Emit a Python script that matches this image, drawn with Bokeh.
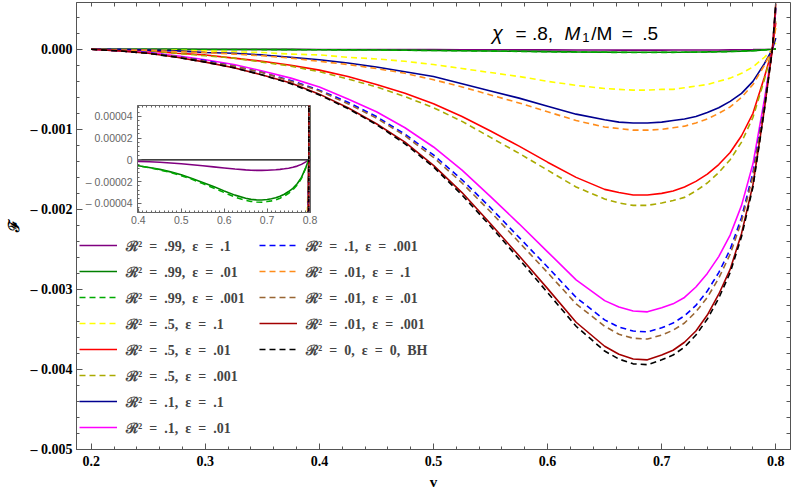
from bokeh.plotting import figure
from bokeh.models import (Range1d, LinearAxis, Legend, LegendItem, Label, Span,
                          CustomJSTickFormatter, SingleIntervalTicker, FixedTicker)
from bokeh.layouts import column
from bokeh.embed import file_html
from bokeh.resources import INLINE

# ---------------- data (F in units of 1e-3) ----------------
v = [0.2, 0.225, 0.25, 0.275, 0.3, 0.325, 0.35, 0.375, 0.4, 0.425, 0.45, 0.475,
     0.5, 0.525, 0.55, 0.575, 0.6, 0.625, 0.65, 0.6625, 0.675, 0.6875, 0.7, 0.71,
     0.72, 0.73, 0.74, 0.75, 0.76, 0.77, 0.78, 0.79, 0.797, 0.8]

F_r99_e1 = [0, -0.00005, -0.0001, -0.0002, -0.0004, -0.0006, -0.0008, -0.0011, -0.0014, -0.0018,
            -0.0023, -0.0029, -0.0036, -0.0045, -0.0055, -0.0065, -0.0075, -0.0085,
            -0.0093, -0.0096, -0.0097, -0.0097, -0.0096, -0.0094, -0.0092, -0.0088, -0.0083,
            -0.0077, -0.0069, -0.0058, -0.0042, -0.0019, 0.0, 0.002]
F_r99_e01 = [0, -0.0002, -0.0005, -0.0009, -0.0015, -0.0022, -0.0030, -0.0040, -0.0054, -0.0070,
             -0.0088, -0.0111, -0.0138, -0.0171, -0.0208, -0.0246, -0.0286, -0.0325,
             -0.0354, -0.0364, -0.0369, -0.0370, -0.0365, -0.0359, -0.0350, -0.0336, -0.0317,
             -0.0292, -0.0262, -0.0220, -0.0162, -0.0071, 0.0, 0.006]
F_r99_e001 = [0, -0.0002, -0.0005, -0.0010, -0.0016, -0.0023, -0.0032, -0.0043, -0.0056, -0.0073,
              -0.0093, -0.0117, -0.0146, -0.0180, -0.0219, -0.0259, -0.0301, -0.0343,
              -0.0373, -0.0383, -0.0389, -0.0390, -0.0384, -0.0378, -0.0368, -0.0353, -0.0334,
              -0.0308, -0.0276, -0.0232, -0.0170, -0.0075, 0.0, 0.006]
F_r5_e1 = [0, 0.0, -0.01, -0.01, -0.02, -0.03, -0.04, -0.06, -0.07, -0.10, -0.12, -0.15, -0.19,
           -0.24, -0.29, -0.34, -0.40, -0.45,
           -0.49, -0.50, -0.51, -0.51, -0.50, -0.50, -0.48, -0.46, -0.44, -0.40, -0.36, -0.30,
           -0.22, -0.10, 0.0, 0.08]
F_r5_e01 = [0, -0.01, -0.02, -0.05, -0.07, -0.11, -0.15, -0.20, -0.26, -0.34, -0.44, -0.55, -0.68,
            -0.84, -1.02, -1.21, -1.41, -1.60,
            -1.75, -1.79, -1.82, -1.82, -1.80, -1.77, -1.72, -1.65, -1.56, -1.44, -1.29, -1.08,
            -0.80, -0.35, 0.0, 0.33]
F_r5_e001 = [0, -0.01, -0.02, -0.05, -0.08, -0.11, -0.16, -0.21, -0.28, -0.37, -0.47, -0.59, -0.73,
             -0.90, -1.10, -1.30, -1.51, -1.72,
             -1.87, -1.92, -1.95, -1.95, -1.92, -1.89, -1.85, -1.77, -1.67, -1.54, -1.38, -1.16,
             -0.85, -0.38, 0.0, 0.35]
F_r1_e1 = [0, 0.0, -0.01, -0.02, -0.04, -0.05, -0.07, -0.10, -0.13, -0.17, -0.22, -0.28, -0.34,
           -0.43, -0.52, -0.61, -0.71, -0.81,
           -0.88, -0.91, -0.92, -0.92, -0.91, -0.89, -0.87, -0.84, -0.79, -0.73, -0.65, -0.55,
           -0.40, -0.18, 0.0, 0.14]
F_r1_e01 = [0, -0.02, -0.04, -0.08, -0.13, -0.19, -0.27, -0.36, -0.47, -0.62, -0.78, -0.98, -1.22,
            -1.51, -1.84, -2.18, -2.53, -2.88,
            -3.14, -3.22, -3.27, -3.28, -3.23, -3.18, -3.10, -2.97, -2.80, -2.59, -2.32, -1.95,
            -1.43, -0.63, 0.0, 0.50]
F_r1_e001 = [0, -0.02, -0.04, -0.09, -0.14, -0.21, -0.29, -0.39, -0.51, -0.66, -0.84, -1.06, -1.32,
             -1.63, -1.98, -2.35, -2.72, -3.10,
             -3.38, -3.47, -3.52, -3.53, -3.48, -3.42, -3.33, -3.20, -3.02, -2.79, -2.50, -2.10,
             -1.54, -0.68, 0.0, 0.52]
F_r01_e1 = [0, -0.01, -0.01, -0.03, -0.04, -0.06, -0.08, -0.11, -0.15, -0.19, -0.24, -0.30, -0.38,
            -0.47, -0.57, -0.67, -0.78, -0.89,
            -0.97, -0.99, -1.01, -1.01, -1.00, -0.98, -0.96, -0.92, -0.87, -0.80, -0.72, -0.60,
            -0.44, -0.20, 0.0, 0.27]
F_r01_e01 = [0, -0.02, -0.05, -0.09, -0.15, -0.21, -0.29, -0.40, -0.52, -0.68, -0.86, -1.08, -1.35,
             -1.67, -2.03, -2.41, -2.79, -3.18,
             -3.46, -3.56, -3.61, -3.62, -3.57, -3.51, -3.42, -3.28, -3.10, -2.86, -2.56, -2.15,
             -1.58, -0.70, 0.0, 0.50]
F_r01_e001 = [0, -0.02, -0.05, -0.10, -0.16, -0.23, -0.32, -0.42, -0.56, -0.73, -0.93, -1.16, -1.45,
              -1.79, -2.18, -2.58, -2.99, -3.41,
              -3.71, -3.81, -3.87, -3.88, -3.82, -3.76, -3.66, -3.52, -3.32, -3.06, -2.75, -2.30,
              -1.69, -0.75, 0.0, 0.57]
F_bh = [0, -0.02, -0.05, -0.10, -0.16, -0.23, -0.32, -0.43, -0.57, -0.74, -0.94, -1.18, -1.47,
        -1.82, -2.21, -2.62, -3.04, -3.46,
        -3.77, -3.87, -3.93, -3.94, -3.88, -3.82, -3.72, -3.57, -3.37, -3.11, -2.79, -2.34,
        -1.72, -0.76, 0.0, 0.58]
UNIT = 1e-3

S = "\u2002"
def lab(r, e, extra=""):
    return "\u211b\u00b2" + S + "=" + S + r + "," + S + "\u03b5" + S + "=" + S + e + extra

series = [
    (lab(".99", ".1"), F_r99_e1, "#800080", "solid"),
    (lab(".99", ".01"), F_r99_e01, "#008000", "solid"),
    (lab(".99", ".001"), F_r99_e001, "#00aa00", "6 4"),
    (lab(".5", ".1"), F_r5_e1, "#ffff00", "6 4"),
    (lab(".5", ".01"), F_r5_e01, "#ff0000", "solid"),
    (lab(".5", ".001"), F_r5_e001, "#aaaa00", "6 4"),
    (lab(".1", ".1"), F_r1_e1, "#000090", "solid"),
    (lab(".1", ".01"), F_r1_e01, "#ff00ff", "solid"),
    (lab(".1", ".001"), F_r1_e001, "#0000ff", "6 4"),
    (lab(".01", ".1"), F_r01_e1, "#ff8c1a", "6 4"),
    (lab(".01", ".01"), F_r01_e01, "#996633", "6 4"),
    (lab(".01", ".001"), F_r01_e001, "#a30000", "solid"),
    (lab("0", "0", "," + S + "BH"), F_bh, "#000000", "6 4"),
]
for _n, _vals, _c, _d in series:
    assert len(_vals) == len(v), _n

# ---------------- main figure ----------------
X0, X1 = 0.1871, 0.8129
Y0, Y1 = -0.005, 0.000585
FL, FT, FW, FH = 72, 2, 727, 448      # frame left/top/width/height on the canvas
p = figure(width=800, height=492, x_range=Range1d(X0, X1), y_range=Range1d(Y0, Y1),
           output_backend="svg", toolbar_location=None,
           min_border_left=FL, min_border_right=1, min_border_top=FT, min_border_bottom=42)
p.xgrid.visible = False
p.ygrid.visible = False
p.outline_line_color = "#555555"
p.background_fill_color = "white"

xt = SingleIntervalTicker(interval=0.1, num_minor_ticks=5)
yt = SingleIntervalTicker(interval=0.001, num_minor_ticks=5)
xfmt = CustomJSTickFormatter(code="return tick.toFixed(1);")
yfmt = CustomJSTickFormatter(code="""
if (Math.abs(tick) < 1e-12) return '0.000';
return (tick < 0 ? '\u2013 ' : '') + Math.abs(tick).toFixed(3);""")

def style_axis(ax, tin=6, tmin=3, color="#555555"):
    ax.major_tick_in = tin
    ax.major_tick_out = 0
    ax.minor_tick_in = tmin
    ax.minor_tick_out = 0
    ax.axis_line_color = color
    ax.major_tick_line_color = color
    ax.minor_tick_line_color = color

for ax in p.xaxis:
    ax.ticker = xt
    ax.formatter = xfmt
for ax in p.yaxis:
    ax.ticker = yt
    ax.formatter = yfmt
for ax in list(p.xaxis) + list(p.yaxis):
    style_axis(ax)
    ax.major_label_text_font = "Liberation Serif"
    ax.major_label_text_font_style = "bold"
    ax.major_label_text_font_size = "14px"
    ax.major_label_text_color = "black"
    ax.axis_label_text_font = "Liberation Serif"
    ax.axis_label_text_font_style = "bold"
    ax.axis_label_text_font_size = "15px"
    ax.axis_label_text_color = "black"
p.xaxis.major_label_standoff = 6
p.yaxis.major_label_standoff = 4
p.xaxis.axis_label = "v"
p.xaxis.axis_label_standoff = 5
p.yaxis.axis_label = "\u2131"
p.yaxis.axis_label_standoff = 6

# frame ticks on the top and right edges (no labels, pinned to the frame edge)
top_minor = [round(0.2 + 0.02 * i, 4) for i in range(31)]
right_minor = [round(-0.005 + 0.0002 * i, 6) for i in range(28)]
top_ax = LinearAxis(ticker=FixedTicker(ticks=[], minor_ticks=top_minor),
                    major_label_standoff=0, fixed_location=Y1)
right_ax = LinearAxis(ticker=FixedTicker(ticks=[], minor_ticks=right_minor),
                      major_label_standoff=0, fixed_location=X1)
style_axis(top_ax, tmin=4)
style_axis(right_ax, tmin=4)
p.add_layout(top_ax, "above")
p.add_layout(right_ax, "right")

renderers = []
for name, vals, col, dash in series:
    r = p.line(v, [a * UNIT for a in vals], line_color=col, line_width=1.6, line_dash=dash)
    renderers.append(LegendItem(label=name, renderers=[r]))

leg_kw = dict(label_text_font="Liberation Serif", label_text_font_style="bold",
              label_text_font_size="14px", glyph_width=38, glyph_height=20,
              label_height=20, label_standoff=9, spacing=6, padding=3, margin=0,
              border_line_alpha=0, background_fill_alpha=0)
p.add_layout(Legend(items=renderers[:8], location=(0, 9), **leg_kw), "center")
p.add_layout(Legend(items=renderers[8:], location=(180, 87), **leg_kw), "center")

# title annotation pieces (positions given in canvas pixels)
def vx(px):
    return X0 + (px - FL) / FW * (X1 - X0)

def fy(py):
    return Y1 - (py - FT) / FH * (Y1 - Y0)

tfont = "Liberation Sans"
for txt, px, py, size, style in [("\u03c7", 495, 33, "20px", "italic"),
                                 ("= .8,", 519, 33, "19px", "normal"),
                                 ("M", 569, 33, "19px", "italic"),
                                 ("1", 587, 37, "13px", "normal"),
                                 ("/M" + S + "=" + S + ".5", 596, 33, "19px", "normal")]:
    p.add_layout(Label(x=vx(px), y=fy(py), text=txt, text_font=tfont, text_font_size=size,
                       text_font_style=style, text_color="black", text_baseline="alphabetic"))

# ---------------- inset ----------------
IX0, IX1 = 0.398, 0.801
IY0, IY1 = -0.0000485, 0.00005
IL, IR, IT, IB = 76, 10, 2, 19
inset = figure(frame_width=173, frame_height=107, x_range=Range1d(IX0, IX1),
               y_range=Range1d(IY0, IY1), output_backend="svg",
               toolbar_location=None, min_border_left=IL, min_border_right=IR,
               min_border_top=IT, min_border_bottom=IB,
               margin=(105 - IT - 492, 0, 0, 137 - IL))
inset.xgrid.visible = False
inset.ygrid.visible = False
inset.outline_line_color = "#666666"
inset.border_fill_alpha = 0
ixt = SingleIntervalTicker(interval=0.1, num_minor_ticks=10)
iyt = SingleIntervalTicker(interval=0.00002, num_minor_ticks=5)
inset.xaxis.ticker = ixt
inset.yaxis.ticker = iyt
inset.xaxis.formatter = CustomJSTickFormatter(code="return tick.toFixed(1);")
inset.yaxis.formatter = CustomJSTickFormatter(code="""
if (Math.abs(tick) < 1e-12) return '0';
return (tick < 0 ? '\u2013 ' : '') + Math.abs(tick).toFixed(5);""")
for ax in list(inset.xaxis) + list(inset.yaxis):
    style_axis(ax, tin=4, tmin=2, color="#666666")
    ax.major_label_text_font = "Liberation Sans"
    ax.major_label_text_font_size = "10.5px"
    ax.major_label_text_color = "#666666"
inset.xaxis.major_label_standoff = 3
inset.yaxis.major_label_standoff = 5
itop_minor = [round(0.4 + 0.01 * i, 4) for i in range(41)]
iright_minor = [round(-0.000048 + 0.000004 * i, 8) for i in range(25)]
itop = LinearAxis(ticker=FixedTicker(ticks=[], minor_ticks=itop_minor),
                  major_label_standoff=0, fixed_location=IY1)
iright = LinearAxis(ticker=FixedTicker(ticks=[], minor_ticks=iright_minor),
                    major_label_standoff=0, fixed_location=IX1)
style_axis(itop, tin=4, tmin=2, color="#666666")
style_axis(iright, tin=4, tmin=2, color="#666666")
inset.add_layout(itop, "above")
inset.add_layout(iright, "right")
inset.add_layout(Span(location=0, dimension="width", line_color="black", line_width=1.3,
                      level="underlay"))
for name, vals, col, dash in series:
    inset.line(v, [a * UNIT for a in vals], line_color=col, line_width=1.6, line_dash=dash)

layout = column(p, inset)
open("out.html", "w").write(file_html(layout, INLINE))
